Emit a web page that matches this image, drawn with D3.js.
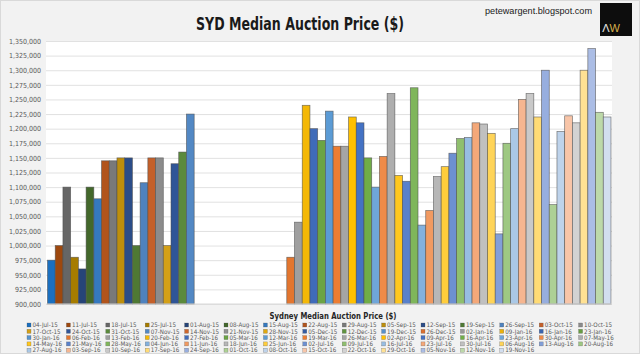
<!DOCTYPE html>
<html>
<head>
<meta charset="utf-8">
<script src="https://cdn.jsdelivr.net/npm/d3@7"></script>
<style>
  html, body { margin: 0; padding: 0; background: #f2f2f2; }
  svg { display: block; }
  .narrow { font-family: "Liberation Sans Narrow", "Arial Narrow", "DejaVu Sans Condensed", sans-serif; }
</style>
</head>
<body>
<svg id="chart" width="640" height="354"></svg>
<script>
// weekly auction dates (one series each)
const weeks = [
  '04-Jul-15', '11-Jul-15', '18-Jul-15', '25-Jul-15', '01-Aug-15', '08-Aug-15', '15-Aug-15', '22-Aug-15',
  '29-Aug-15', '05-Sep-15', '12-Sep-15', '19-Sep-15', '26-Sep-15', '03-Oct-15', '10-Oct-15', '17-Oct-15',
  '24-Oct-15', '31-Oct-15', '07-Nov-15', '14-Nov-15', '21-Nov-15', '28-Nov-15', '05-Dec-15', '12-Dec-15',
  '19-Dec-15', '26-Dec-15', '02-Jan-16', '09-Jan-16', '16-Jan-16', '23-Jan-16', '30-Jan-16', '06-Feb-16',
  '13-Feb-16', '20-Feb-16', '27-Feb-16', '05-Mar-16', '12-Mar-16', '19-Mar-16', '26-Mar-16', '02-Apr-16',
  '09-Apr-16', '16-Apr-16', '23-Apr-16', '30-Apr-16', '07-May-16', '14-May-16', '21-May-16', '28-May-16',
  '04-Jun-16', '11-Jun-16', '18-Jun-16', '25-Jun-16', '02-Jul-16', '09-Jul-16', '16-Jul-16', '23-Jul-16',
  '30-Jul-16', '06-Aug-16', '13-Aug-16', '20-Aug-16', '27-Aug-16', '03-Sep-16', '10-Sep-16', '17-Sep-16',
  '24-Sep-16', '01-Oct-16', '08-Oct-16', '15-Oct-16', '22-Oct-16', '29-Oct-16', '05-Nov-16', '12-Nov-16',
  '19-Nov-16'
];

// median price per week, null = no data
const prices = [
  975000, 1000000, 1100000, 980000, 960000, 1100000, 1080000, 1145000, 1145000, 1150000,
  1150000, 1000000, 1107500, 1150000, 1150000, 1000000, 1140000, 1160000, 1225000,
  null, null, null, null, null, null, null, null, null, null, null, null,
  980000, 1040000, 1240000, 1200000, 1180000, 1230000, 1170000, 1170000, 1220000, 1210000,
  1150000, 1100000, 1152500, 1260000, 1120000, 1110000, 1270000, 1035000, 1060000, 1118000,
  1135000, 1158000, 1183000, 1185000, 1210000, 1208000, 1192000, 1020000, 1175000, 1200000,
  1250000, 1260000, 1220000, 1300000, 1070000, 1195000, 1222000, 1210000, 1300000, 1337000,
  1228000, 1220000
];

const yTicks = d3.range(900000, 1350001, 25000);

// excel-ish palette: 6 hues, each going dark -> base -> pale as series count grows
const hueShades = [
  ['#1a6fc0', '#4f82be', '#5b9bd5', '#d2deef'],
  ['#9e480e', '#c4602a', '#ed7d31', '#fad3c0'],
  ['#666666', '#8c8c8c', '#a5a5a5', '#dbdbdb'],
  ['#a67c00', '#d4a017', '#ffc000', '#ffe8b0'],
  ['#264478', '#2f5597', '#4472c4', '#c0ccec'],
  ['#43682b', '#5b8a3c', '#70ad47', '#cce2bc']
];
const shadeScales = hueShades.map(c => d3.scaleLinear().domain([0, 2, 6, 12]).range(c).interpolate(d3.interpolateRgb));
const colorFor = i => shadeScales[i % 6](Math.floor(i / 6));

const svg = d3.select('#chart');
const W = 640, H = 354;

svg.append('rect')
  .attr('x', 0.5).attr('y', 0.5)
  .attr('width', W - 1).attr('height', H - 1)
  .attr('fill', '#f2f2f2')
  .attr('stroke', '#d9d9d9');

// plot area
const plot = { left: 46, right: 612, top: 41, bottom: 304 };

svg.append('rect')
  .attr('x', plot.left).attr('y', plot.top)
  .attr('width', plot.right - plot.left)
  .attr('height', plot.bottom - plot.top)
  .attr('fill', '#ffffff');

const y = d3.scaleLinear()
  .domain([900000, 1350000])
  .range([plot.bottom, plot.top]);

const x = d3.scaleBand()
  .domain(weeks)
  .range([47.5, 611])
  .padding(0);

// gridlines
svg.append('g')
  .attr('transform', `translate(${plot.left},0)`)
  .call(d3.axisLeft(y).tickValues(yTicks).tickSize(-(plot.right - plot.left)).tickFormat(''))
  .call(g => g.select('.domain').remove())
  .call(g => g.selectAll('line').attr('stroke', '#d9d9d9').attr('stroke-width', 0.8));

// y labels
svg.append('g')
  .attr('transform', 'translate(41,0)')
  .call(d3.axisLeft(y).tickValues(yTicks).tickSize(0).tickPadding(0).tickFormat(d3.format(',')))
  .call(g => g.select('.domain').remove())
  .call(g => g.selectAll('text')
    .attr('class', 'narrow')
    .attr('font-size', 7)
    .attr('fill', '#595959'));

// bars
svg.append('g')
  .selectAll('rect')
  .data(weeks.map((w, i) => ({ week: w, value: prices[i], i })).filter(d => d.value != null))
  .join('rect')
  .attr('x', d => x(d.week))
  .attr('y', d => y(d.value))
  .attr('width', x.bandwidth())
  .attr('height', d => y(900000) - y(d.value))
  .attr('fill', d => colorFor(d.i))
  .attr('stroke', '#4d4d4d')
  .attr('stroke-opacity', 0.75)
  .attr('stroke-width', 0.7);

// bottom axis line
svg.append('line')
  .attr('x1', plot.left).attr('x2', plot.right)
  .attr('y1', plot.bottom).attr('y2', plot.bottom)
  .attr('stroke', '#d9d9d9');

// title + source
svg.append('text')
  .attr('class', 'narrow')
  .attr('x', 300).attr('y', 30)
  .attr('text-anchor', 'middle')
  .attr('font-size', 17)
  .attr('font-weight', 'bold')
  .attr('fill', '#1a1a1a')
  .attr('textLength', 208)
  .attr('lengthAdjust', 'spacingAndGlyphs')
  .text('SYD Median Auction Price ($)');

svg.append('text')
  .attr('x', 485).attr('y', 14)
  .attr('font-family', 'Liberation Sans, Arial, sans-serif')
  .attr('font-size', 9)
  .attr('fill', '#1a1a1a')
  .attr('textLength', 107)
  .attr('lengthAdjust', 'spacingAndGlyphs')
  .text('petewargent.blogspot.com');

// AW logo
svg.append('rect')
  .attr('x', 600).attr('y', 3)
  .attr('width', 32).attr('height', 33)
  .attr('fill', '#0d0d0d');

const logo = svg.append('text')
  .attr('x', 611).attr('y', 32)
  .attr('text-anchor', 'middle')
  .attr('font-family', 'Liberation Sans, Arial, sans-serif')
  .attr('font-size', 11);
logo.append('tspan').attr('fill', '#e6e6e6').text('Λ');
logo.append('tspan').attr('fill', '#d6b04c').text('W');

// legend
svg.append('text')
  .attr('class', 'narrow')
  .attr('x', 333).attr('y', 319)
  .attr('text-anchor', 'middle')
  .attr('font-size', 9.5)
  .attr('font-weight', 'bold')
  .attr('fill', '#262626')
  .attr('textLength', 127)
  .attr('lengthAdjust', 'spacingAndGlyphs')
  .text('Sydney Median Auction Price ($)');

const perRow = 15;
const legend = svg.append('g')
  .selectAll('g')
  .data(weeks.map((w, i) => ({ week: w, i })))
  .join('g')
  .attr('transform', d => `translate(${27 + (d.i % perRow) * 39.4},${325 + Math.floor(d.i / perRow) * 6.3})`);

legend.append('rect')
  .attr('x', 0).attr('y', -2)
  .attr('width', 4).attr('height', 4)
  .attr('fill', d => colorFor(d.i))
  .attr('stroke', '#4d4d4d')
  .attr('stroke-opacity', 0.6)
  .attr('stroke-width', 0.4);

legend.append('text')
  .attr('class', 'narrow')
  .attr('x', 5.5).attr('y', 2.2)
  .attr('font-size', 6.2)
  .attr('fill', '#595959')
  .text(d => d.week);
</script>
</body>
</html>
